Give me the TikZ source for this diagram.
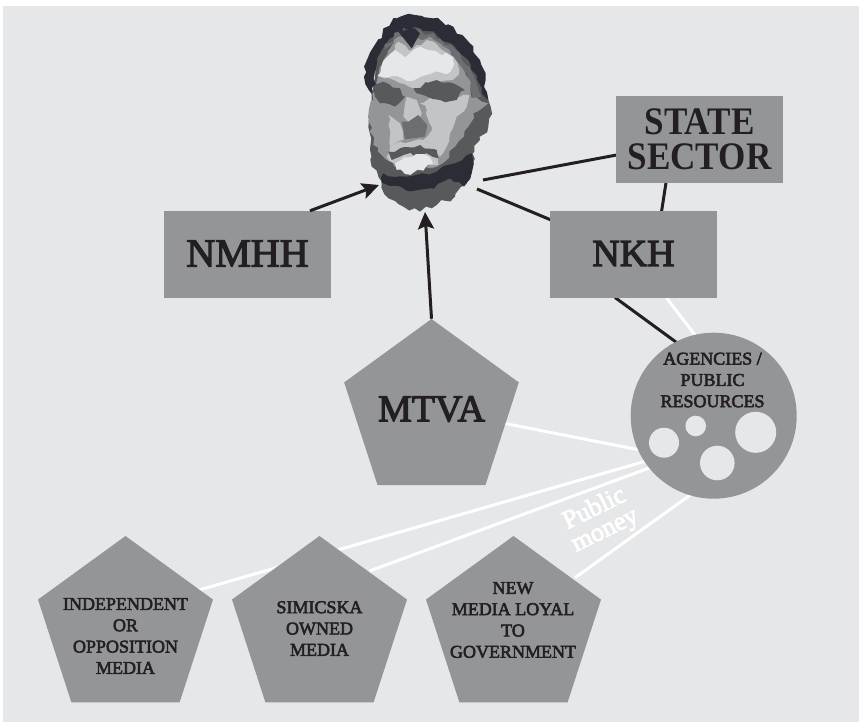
\documentclass[tikz,border=0pt]{standalone}
\usepackage{fontspec}
\usetikzlibrary{arrows.meta,shapes.geometric,decorations.pathmorphing}
\setmainfont{Liberation Serif}
\newfontfamily\semifont[FakeBold=3]{Liberation Serif}
\newfontfamily\heavyfont[FakeStretch=0.9]{Liberation Serif}
\definecolor{bgc}{HTML}{E6E7E9}
\definecolor{shapec}{HTML}{939598}
\definecolor{inkc}{HTML}{231F20}
\definecolor{hairc}{HTML}{2B2D36}
\definecolor{darkc}{HTML}{58595B}
\definecolor{dimc}{HTML}{6D6E71}
\definecolor{midc}{HTML}{939598}
\definecolor{lightc}{HTML}{C3C4C6}
\tikzset{
  x=1pt,y=-1pt,
  boxnode/.style={rectangle,fill=shapec,minimum width=167pt,minimum height=87pt,inner sep=0pt,text=inkc,font=\semifont\fontsize{38}{38}\selectfont},
  pentabig/.style={regular polygon,regular polygon sides=5,fill=shapec,minimum size=183.6pt,inner sep=0pt},
  pentasmall/.style={regular polygon,regular polygon sides=5,fill=shapec,minimum size=184pt,inner sep=0pt},
  hole/.style={circle,fill=bgc,inner sep=0pt},
  smalltext/.style={text=inkc,align=center,inner sep=0pt,font=\semifont\fontsize{18}{21.3}\selectfont},
  blackline/.style={draw=inkc,line width=3pt},
  whiteline/.style={draw=white,line width=3pt},
  arrowline/.style={blackline,-{Stealth[length=17pt,width=16pt,inset=3pt]}},
  rough/.style={decorate,decoration={random steps,segment length=6,amplitude=2.5}}
}
\pgfmathsetseed{7}
\begin{document}
\begin{tikzpicture}
\useasboundingbox (0,0) rectangle (859,722);
\fill[white] (0,0) rectangle (859,722);
\fill[bgc] (3,6) rectangle (859,722);

\coordinate (faceW) at (379,185);
\coordinate (faceS) at (425,212);
\coordinate (faceNE) at (483,180);
\coordinate (faceSE) at (477,189);
\path (713.7,415.7) coordinate (resC);
\path (125.5,628) coordinate (indC) (319.5,628) coordinate (simC) (513.5,628) coordinate (newC) (431.5,410.8) coordinate (mtvaC);
\path (633.5,254.5) coordinate (nkhC) (699.5,139.5) coordinate (stateC) (247.5,254.5) coordinate (nmhhC);

\draw[whiteline] (nkhC) ++(33,43.5) -- (695,335);
\draw[whiteline] (mtvaC) ++(60,10) -- (650,452);
\draw[whiteline] (indC) ++(70,-37) -- (660,457);
\draw[whiteline] (simC) ++(50,-57) -- (660,464);
\draw[whiteline] (newC) ++(61.5,-50.3) -- (700,488);
\draw[blackline] (nkhC) ++(-18.5,43) -- (680,345);
\draw[blackline] (faceNE) -- (stateC);
\draw[blackline] (faceSE) -- (nkhC);
\draw[blackline] (stateC) ++(-33,40) -- (661,215);

\node[boxnode,font=\semifont\fontsize{40}{40}\selectfont] (nmhh) at (nmhhC) {\raisebox{2pt}{NMHH}};
\node[boxnode] (nkh) at (nkhC) {\raisebox{2pt}{NKH}};
\node[boxnode,align=center,font=\heavyfont\bfseries\fontsize{39}{35.5}\selectfont] (state) at (stateC) {STATE\\SECTOR};
\node[pentabig] (mtva) at (mtvaC) {};
\node[pentasmall] (ind) at (indC) {};
\node[pentasmall] (sim) at (simC) {};
\node[pentasmall] (new) at (newC) {};
\node[circle,fill=shapec,minimum size=166pt,inner sep=0pt] (res) at (resC) {};
\node[hole,minimum size=30pt] (h1) at (664,442.7) {};
\node[hole,minimum size=20.6pt] (h2) at (695.7,426) {};
\node[hole,minimum size=34.6pt] (h3) at (717.3,463) {};
\node[hole,minimum size=41pt] (h4) at (755.7,432.3) {};

\draw[arrowline] (nmhh.north) ++(62.5,0) -- (faceW);
\draw[arrowline] (mtva.north) -- (faceS);

\node[text=inkc,inner sep=0pt,font=\semifont\fontsize{38}{38}\selectfont] (mtvat) at (431.5,409) {MTVA};
\node[smalltext] (rest) at (712.5,380) {AGENCIES /\\PUBLIC\\RESOURCES};
\node[smalltext] (indt) at (125.5,636) {INDEPENDENT\\OR\\OPPOSITION\\MEDIA};
\node[smalltext] (simt) at (319.5,628.5) {SIMICSKA\\OWNED\\MEDIA};
\node[smalltext] (newt) at (513,620) {NEW\\MEDIA LOYAL\\TO\\GOVERNMENT};
\node[rotate=26,text=white,align=center,inner sep=0pt,font=\semifont\fontsize{26}{24}\selectfont] (money) at (600,520) {Public\\money};

% portrait
\begin{scope}[shift={(340,0)},x=0.3333pt,y=-0.3333pt]
\fill[darkc,rough] (150,90)--(280,70)--(400,190)--(445,300)--(452,320)--(445,380)--(420,420)--(398,460)--(395,520)--(345,590)--(290,615)--(240,635)--(190,620)--(145,595)--(125,545)--(95,500)--(90,450)--(85,350)--(95,290)--(100,200)--cycle;
\fill[hairc,rough] (125,548)--(130,520)--(200,530)--(290,515)--(345,490)--(395,460)--(395,520)--(372,560)--(330,535)--(270,565)--(200,572)--(150,558)--cycle;
\fill[hairc,rough] (72,230)--(85,170)--(125,115)--(130,85)--(170,55)--(225,45)--(280,55)--(340,80)--(390,130)--(420,180)--(437,240)--(445,300)--(425,280)--(410,225)--(385,180)--(345,140)--(290,105)--(240,85)--(190,85)--(150,115)--(120,160)--(105,215)--(98,285)--cycle;
\fill[dimc,rough] (130,150)--(175,95)--(240,90)--(300,115)--(360,160)--(400,225)--(425,290)--(395,300)--(385,235)--(330,170)--(215,130)--(170,130)--cycle;
\fill[midc,rough] (115,225)--(130,180)--(175,110)--(215,130)--(270,110)--(330,150)--(385,235)--(395,295)--(445,310)--(400,340)--(385,380)--(345,440)--(320,480)--(270,505)--(180,510)--(130,470)--(100,435)--(85,345)--(100,300)--cycle;
\fill[lightc,rough] (115,228)--(140,180)--(175,125)--(215,150)--(260,120)--(340,170)--(358,210)--(338,240)--(290,250)--(230,270)--(180,250)--cycle;
\fill[lightc,rough] (240,310)--(300,290)--(388,285)--(380,320)--(350,350)--(330,400)--(320,440)--(300,470)--(270,430)--(250,420)--(275,380)--(260,330)--cycle;
\fill[lightc,rough] (145,345)--(180,370)--(190,420)--(150,440)--(150,390)--cycle;
\fill[lightc] (200,290)--(230,300)--(245,340)--(240,355)--(210,370)--(190,350)--(195,310)--cycle;
\fill[bgc,rough] (112,228)--(125,195)--(165,150)--(195,172)--(240,140)--(285,152)--(338,172)--(332,215)--(270,222)--(220,242)--(170,228)--cycle;
\fill[darkc,rough] (100,265)--(130,245)--(180,265)--(195,290)--(165,320)--(120,310)--(105,290)--cycle;
\fill[darkc,rough] (220,265)--(290,240)--(340,250)--(375,270)--(350,300)--(300,300)--(250,285)--cycle;
\fill[hairc] (175,95)--(215,145)--(240,100)--(225,85)--cycle;
\fill[dimc] (185,365)--(205,365)--(235,345)--(262,375)--(255,410)--(195,418)--(190,390)--cycle;
\fill[lightc,rough] (150,440)--(180,425)--(250,420)--(290,450)--(295,495)--(180,505)--(140,470)--cycle;
\fill[darkc,rough] (145,455)--(180,445)--(240,435)--(290,450)--(295,475)--(260,460)--(190,465)--(155,480)--cycle;
\fill[bgc,rough] (165,490)--(190,472)--(250,462)--(280,490)--(250,512)--(195,522)--(170,510)--cycle;
\end{scope}
\end{tikzpicture}
\end{document}
